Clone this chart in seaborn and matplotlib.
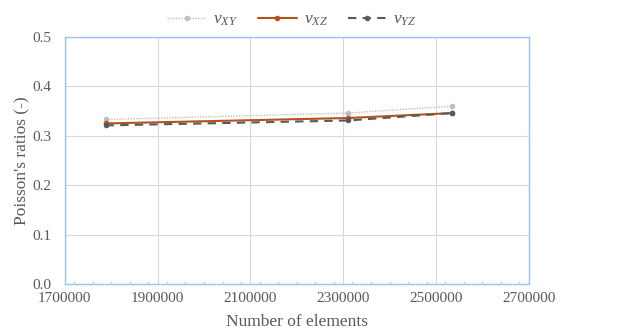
import matplotlib
matplotlib.use("Agg")
import matplotlib.pyplot as plt
import seaborn as sns
import pandas as pd
from matplotlib.ticker import MultipleLocator

elements = [1788000, 2311000, 2535000]
v_xy = [0.333, 0.346, 0.360]
v_xz = [0.325, 0.336, 0.346]
v_yz = [0.321, 0.331, 0.346]
series_labels = [r"$v_{XY}$", r"$v_{XZ}$", r"$v_{YZ}$"]
x_ticks = [1700000, 1900000, 2100000, 2300000, 2500000, 2700000]
y_ticks = [0.0, 0.1, 0.2, 0.3, 0.4, 0.5]

sns.set_theme(style="white")
plt.rcParams['font.family'] = 'serif'
plt.rcParams['font.serif'] = ['Liberation Serif', 'DejaVu Serif']
plt.rcParams['mathtext.fontset'] = 'custom'
plt.rcParams['mathtext.it'] = 'Liberation Serif:italic'
plt.rcParams['mathtext.rm'] = 'Liberation Serif'

fig = plt.figure(figsize=(6.17, 3.33), dpi=100)
ax = fig.add_axes([0.105, 0.147, 0.752, 0.742])

text_col = "#595959"
styles = [
    dict(color="#bfbfbf", linestyle=(0, (1, 1)), lw=1.0, ms=4),
    dict(color="#b5521b", linestyle="-", lw=1.5, ms=4),
    dict(color="#595959", linestyle=(0, (4, 3)), lw=1.5, ms=4),
]
for vals, lab, st in zip([v_xy, v_xz, v_yz], series_labels, styles):
    df = pd.DataFrame({"x": elements, "y": vals})
    sns.lineplot(data=df, x="x", y="y", ax=ax, label=lab, color=st["color"],
                 linestyle=st["linestyle"], linewidth=st["lw"], marker="o",
                 markersize=st["ms"], markeredgewidth=0)

ax.set_xlim(1700000, 2700000)
ax.set_ylim(0, 0.5)
ax.set_xticks(x_ticks)
ax.set_xticklabels([str(t) for t in x_ticks])
ax.set_yticks(y_ticks)
ax.set_yticklabels([f"{t:.1f}" for t in y_ticks])
ax.xaxis.set_minor_locator(MultipleLocator(40000))
ax.tick_params(axis='x', which='minor', direction='in', length=2.5, color="#c5d9ee", bottom=True)
ax.tick_params(axis='y', which='major', length=0, labelsize=11, labelcolor=text_col, pad=10)
ax.tick_params(axis='x', which='major', length=0, labelsize=11, labelcolor=text_col, pad=6)
ax.grid(True, axis='both', color="#d9d9d9", linewidth=0.8)
for sp in ax.spines.values():
    sp.set_color("#9dc3e6")
    sp.set_linewidth(1.0)
ax.set_xlabel("Number of elements", fontsize=12.5, color=text_col, labelpad=6)
ax.set_ylabel("Poisson's ratios (-)", fontsize=12.5, color=text_col, labelpad=1)

leg = ax.legend(loc="upper center", bbox_to_anchor=(0.49, 1.165), ncol=3,
                frameon=False, fontsize=12.5, handlelength=2.2, columnspacing=1.2,
                handletextpad=0.4)
for t in leg.get_texts():
    t.set_color(text_col)

fig.savefig("out.png", dpi=100, facecolor="white")
